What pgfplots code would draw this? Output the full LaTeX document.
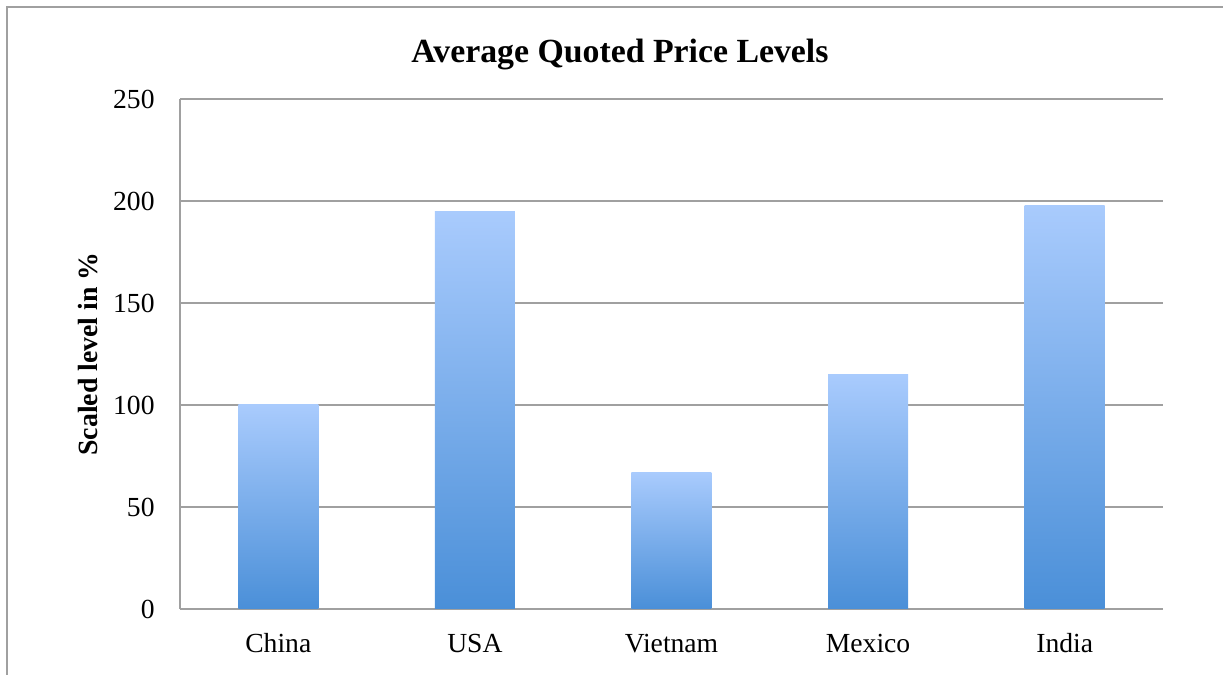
\documentclass[border=0pt]{standalone}
\usepackage{pgfplots}
\pgfplotsset{compat=1.18}
\usepackage{fontspec}
\setmainfont{Liberation Serif}
\definecolor{barTop}{HTML}{A9CBFD}
\definecolor{barBot}{HTML}{4A8FD8}
\definecolor{gridc}{HTML}{A0A0A0}
\pgfplotsset{barstyle/.style={ybar, bar width=40pt, bar shift=0pt, draw=none, mark=none, top color=barTop, bottom color=barBot}}
\begin{document}
\fontsize{13.5}{16}\selectfont
\begin{tikzpicture}
\useasboundingbox (-90pt,-33pt) rectangle (521.5pt,304.5pt);
\clip (-90pt,-33pt) rectangle (521.5pt,304.5pt);
\draw[gridc, line width=1pt] (-86.5pt,-40pt) -- (-86.5pt,301pt) -- (530pt,301pt);
\begin{axis}[
  scale only axis,
  width=491.5pt, height=255pt,
  xmin=-0.5, xmax=4.5,
  ymin=0, ymax=250,
  ytick={0,50,100,150,200,250},
  xtick={0,1,2,3,4},
  xticklabels={China,USA,Vietnam,Mexico,India},
  axis x line*=bottom,
  axis y line*=left,
  axis line style={gridc, line width=1pt, -},
  major tick length=0pt,
  ymajorgrids,
  grid style={gridc, line width=1pt},
  /pgf/number format/assume math mode=true,
  tick label style={font=\fontsize{13.8}{16}\selectfont},
  yticklabel style={anchor=east, inner sep=0pt, xshift=-12.5pt},
  xticklabel style={anchor=base, inner sep=0pt, yshift=-22pt},
  clip=false,
]
\addplot[barstyle] coordinates {(0,100)};
\addplot[barstyle] coordinates {(1,195)};
\addplot[barstyle] coordinates {(2,67)};
\addplot[barstyle] coordinates {(3,115)};
\addplot[barstyle] coordinates {(4,198)};
\end{axis}
\node[font=\bfseries\fontsize{16.9}{20}\selectfont, anchor=base] at (220pt,273pt) {Average Quoted Price Levels};
\node[font=\bfseries\fontsize{13.9}{16}\selectfont, rotate=90, anchor=center] at (-46pt,127.5pt) {Scaled level in \%};
\end{tikzpicture}
\end{document}
